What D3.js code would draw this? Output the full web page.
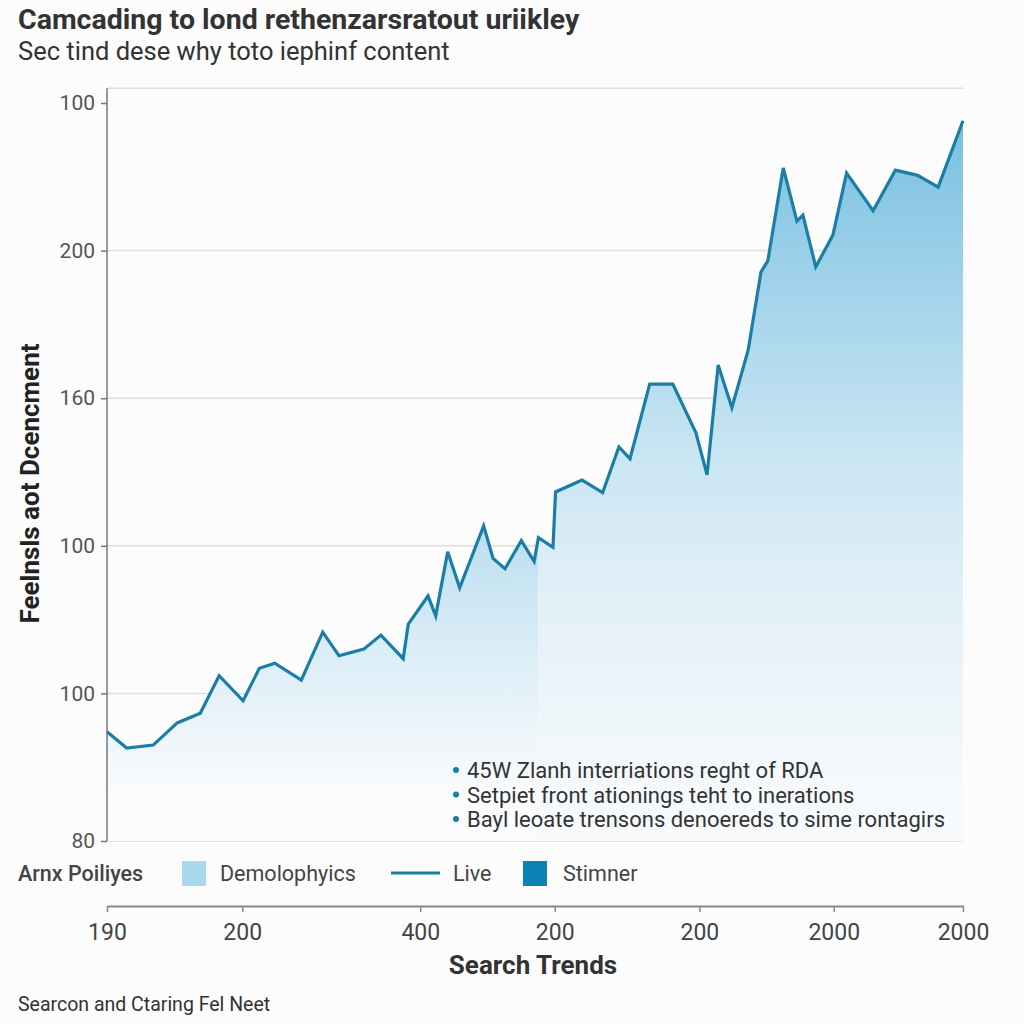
<!DOCTYPE html>
<html>
<head>
<meta charset="utf-8">
<script src="https://cdn.jsdelivr.net/npm/d3@7"></script>
<style>
  html, body { margin: 0; padding: 0; background: #fcfcfc; }
  svg { display: block; font-family: Roboto, "Liberation Sans", sans-serif; }
</style>
</head>
<body>
<svg id="chart" width="1024" height="1024"></svg>
<script>
// ---- data ----
const titleText = "Camcading to lond rethenzarsratout uriikley";
const subtitleText = "Sec tind dese why toto iephinf content";
const yAxisTitle = "Feelnsls aot Dcencment";
const xAxisTitle = "Search Trends";
const footerText = "Searcon and Ctaring Fel Neet";

// position of each sample along the x axis (0..100) and its value (0..100 scale)
const seriesX = [0, 2.3, 5.4, 8.2, 10.9, 13.1, 15.9, 17.8, 19.6, 22.7, 25.2, 27.1, 30.0, 32.0, 34.6, 35.2, 37.5, 38.4, 39.8, 41.2, 44.0, 45.1, 46.5, 48.4, 49.9, 50.4, 52.1, 52.4, 55.5, 57.9, 59.8, 61.1, 63.4, 66.1, 68.8, 70.1, 71.4, 73.0, 74.9, 76.4, 77.2, 79.0, 80.6, 81.3, 82.8, 84.8, 86.4, 89.5, 92.1, 94.7, 97.1, 100];
const seriesY = [14.8, 12.6, 13.0, 16.0, 17.3, 22.4, 19.0, 23.4, 24.1, 21.8, 28.3, 25.1, 26.0, 27.9, 24.7, 29.4, 33.2, 30.5, 39.2, 34.3, 42.7, 38.3, 36.9, 40.7, 37.9, 41.1, 39.8, 47.3, 48.9, 47.2, 53.4, 51.8, 61.9, 61.9, 55.3, 49.6, 64.5, 58.7, 66.5, 77.1, 78.6, 91.2, 84.0, 84.8, 77.8, 82.1, 90.5, 85.4, 90.9, 90.2, 88.6, 97.6];
const splitAt = 50.4; // where the shaded area changes tone

const yTickValues = [0, 20, 40, 60, 80, 100];
const yTickLabels = ["80", "100", "100", "160", "200", "100"];
const xTickValues = [0, 15.8, 36.6, 52.3, 69.2, 84.9, 100];
const xTickLabels = ["190", "200", "400", "200", "200", "2000", "2000"];

const legendLabels = ["Demolophyics", "Live", "Stimner"];
const legendTitle = "Arnx Poiliyes";
const notes = [
  "45W Zlanh interriations reght of RDA",
  "Setpiet front ationings teht to inerations",
  "Bayl leoate trensons denoereds to sime rontagirs"
];

// ---- layout ----
const svg = d3.select("#chart");
const pLeft = 107, pRight = 963, pTop = 103, pBottom = 841;
const x = d3.scaleLinear().domain([0, 100]).range([pLeft, pRight]);
const y = d3.scaleLinear().domain([0, 100]).range([pBottom, pTop]);
const data = seriesX.map((d, i) => ({ x: d, y: seriesY[i] }));

const defs = svg.append("defs");
const g1 = defs.append("linearGradient").attr("id", "fillL")
  .attr("gradientUnits", "userSpaceOnUse").attr("x1", 0).attr("x2", 0)
  .attr("y1", y(44)).attr("y2", y(7));
g1.append("stop").attr("offset", 0).attr("stop-color", "#b8dcee");
g1.append("stop").attr("offset", 0.45).attr("stop-color", "#d8ecf6");
g1.append("stop").attr("offset", 1).attr("stop-color", "#f9fbfd");
const g2 = defs.append("linearGradient").attr("id", "fillR")
  .attr("gradientUnits", "userSpaceOnUse").attr("x1", 0).attr("x2", 0)
  .attr("y1", y(98)).attr("y2", y(5));
g2.append("stop").attr("offset", 0).attr("stop-color", "#78c0e0");
g2.append("stop").attr("offset", 0.25).attr("stop-color", "#a2d3ea");
g2.append("stop").attr("offset", 0.5).attr("stop-color", "#cbe6f3");
g2.append("stop").attr("offset", 0.7).attr("stop-color", "#e2f0f7");
g2.append("stop").attr("offset", 1).attr("stop-color", "#f7fafc");

// gridlines
svg.append("g").selectAll("line").data(yTickValues.slice(0, 5)).join("line")
  .attr("x1", pLeft).attr("x2", pRight)
  .attr("y1", d => y(d)).attr("y2", d => y(d))
  .attr("stroke", "#dcdcdc").attr("stroke-width", 1.5);
svg.append("line").attr("x1", pLeft).attr("x2", pRight)
  .attr("y1", y(102)).attr("y2", y(102))
  .attr("stroke", "#dcdcdc").attr("stroke-width", 1.5);

// areas
const area = d3.area().x(d => x(d.x)).y0(y(0)).y1(d => y(d.y));
const leftPart = data.filter(d => d.x <= splitAt);
const rightPart = data.filter(d => d.x >= splitAt);
svg.append("path").datum(leftPart).attr("d", area).attr("fill", "url(#fillL)");
svg.append("path").datum(rightPart).attr("d", area).attr("fill", "url(#fillR)");

// line
svg.append("path").datum(data)
  .attr("d", d3.line().x(d => x(d.x)).y(d => y(d.y)))
  .attr("fill", "none").attr("stroke", "#1a7ea5").attr("stroke-width", 3.2)
  .attr("stroke-linejoin", "miter");

// y axis
const yAxis = svg.append("g").attr("transform", `translate(${pLeft},0)`)
  .call(d3.axisLeft(y).tickValues(yTickValues).tickFormat((d, i) => yTickLabels[i]).tickSize(6).tickPadding(6));
yAxis.select(".domain").attr("d", `M-0,${y(102)}V${y(0)}`).attr("stroke", "#777").attr("stroke-width", 1.5);
yAxis.selectAll(".tick line").attr("stroke", "#777").attr("stroke-width", 1.5);
yAxis.selectAll("text").attr("font-size", 21).attr("fill", "#555").attr("font-family", "Roboto, sans-serif");

// x axis
const xAxisY = 906;
const xAxis = svg.append("g").attr("transform", `translate(0,${xAxisY})`)
  .call(d3.axisBottom(x).tickValues(xTickValues).tickFormat((d, i) => xTickLabels[i]).tickSize(6).tickSizeOuter(0).tickPadding(12));
xAxis.select(".domain").attr("stroke", "#888").attr("stroke-width", 2);
xAxis.selectAll(".tick line").attr("stroke", "#888").attr("stroke-width", 1.5);
xAxis.selectAll("text").attr("font-size", 23).attr("fill", "#444").attr("font-family", "Roboto, sans-serif");

// titles
svg.append("text").attr("x", 18).attr("y", 29).text(titleText)
  .attr("font-size", 28.5).attr("font-weight", 700).attr("fill", "#333");
svg.append("text").attr("x", 18).attr("y", 60).text(subtitleText)
  .attr("font-size", 25.5).attr("fill", "#333");
svg.append("text").attr("transform", `translate(39,${(345 + 622) / 2}) rotate(-90)`)
  .attr("text-anchor", "middle").text(yAxisTitle)
  .attr("font-size", 26).attr("font-weight", 700).attr("fill", "#222");
svg.append("text").attr("x", 533).attr("y", 974).attr("text-anchor", "middle").text(xAxisTitle)
  .attr("font-size", 26).attr("font-weight", 700).attr("fill", "#333");
svg.append("text").attr("x", 18).attr("y", 1011).text(footerText)
  .attr("font-size", 19.5).attr("fill", "#333");

// notes
const ng = svg.append("g");
notes.forEach((t, i) => {
  const cy = 770 + i * 24.5;
  ng.append("circle").attr("cx", 456).attr("cy", cy).attr("r", 3).attr("fill", "#1a7ea5");
  ng.append("text").attr("x", 467).attr("y", cy + 8).text(t)
    .attr("font-size", 22).attr("fill", "#333");
});

// legend
const lg = svg.append("g");
const ly = 873;
lg.append("text").attr("x", 18).attr("y", ly + 8).text(legendTitle)
  .attr("font-size", 21.5).attr("font-weight", 500).attr("fill", "#444");
lg.append("rect").attr("x", 182).attr("y", ly - 12).attr("width", 24).attr("height", 25).attr("fill", "#a9d9ee");
lg.append("text").attr("x", 220).attr("y", ly + 8).text(legendLabels[0]).attr("font-size", 21.5).attr("fill", "#444");
lg.append("line").attr("x1", 391).attr("x2", 440).attr("y1", ly).attr("y2", ly).attr("stroke", "#1a7ea5").attr("stroke-width", 3);
lg.append("text").attr("x", 453).attr("y", ly + 8).text(legendLabels[1]).attr("font-size", 21.5).attr("fill", "#444");
lg.append("rect").attr("x", 523).attr("y", ly - 12).attr("width", 24).attr("height", 25).attr("fill", "#0a83b3");
lg.append("text").attr("x", 563).attr("y", ly + 8).text(legendLabels[2]).attr("font-size", 21.5).attr("fill", "#444");
</script>
</body>
</html>
